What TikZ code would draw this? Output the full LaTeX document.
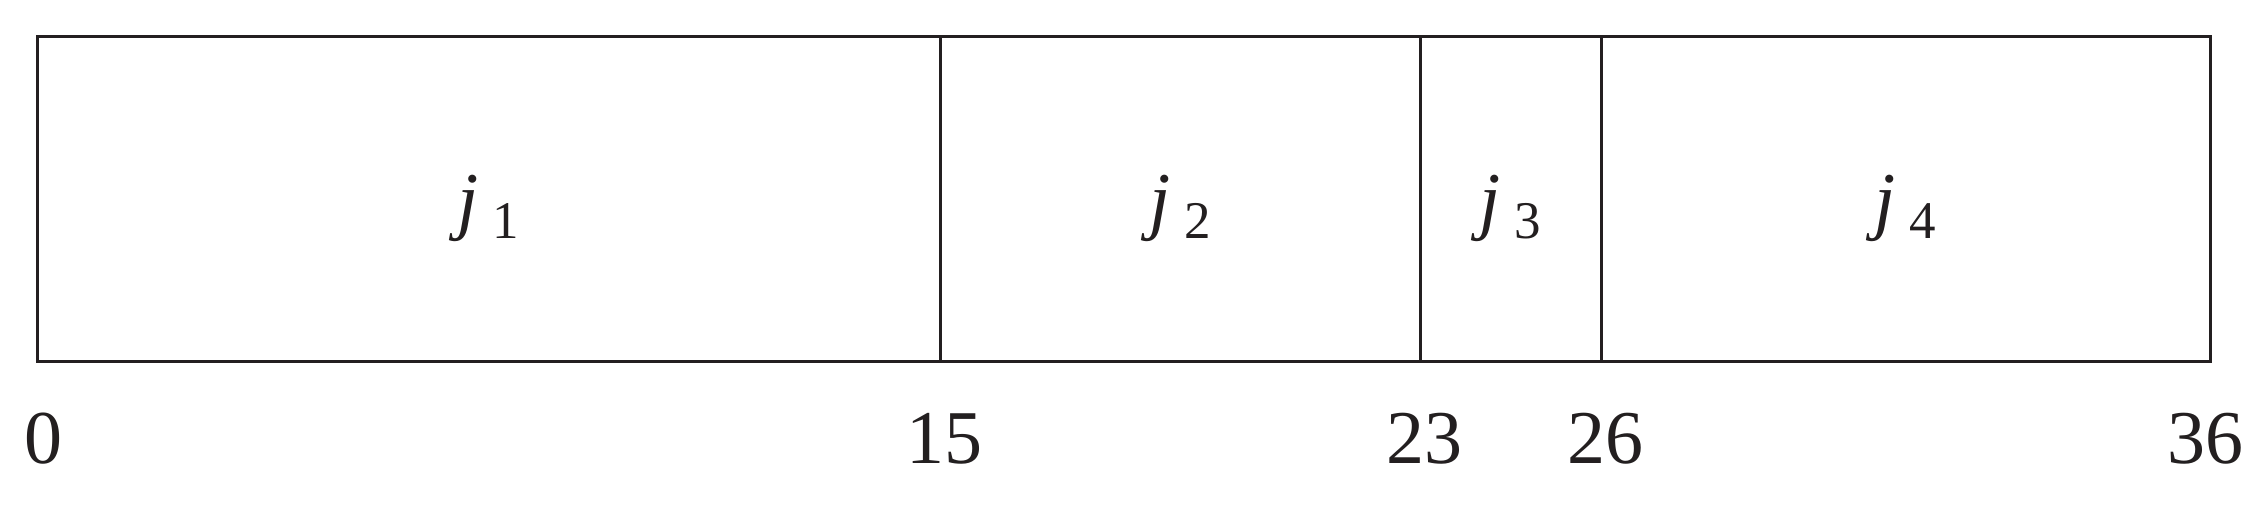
\documentclass[tikz,border=0pt]{standalone}
\usepackage{fontspec}
\setmainfont{Liberation Serif}
\definecolor{ink}{HTML}{231F20}
\tikzset{
  frame/.style={draw=ink, line width=1.5pt},
  tick/.style={text=ink, anchor=base, inner sep=0pt, font=\fontsize{38}{40}\selectfont},
  job/.style={text=ink, anchor=base, inner sep=0pt, font=\fontsize{38}{40}\selectfont}
}
\newcommand{\jlab}[1]{\textit{j}\hspace{7pt}\raisebox{-6.5pt}{\fontsize{26.5}{28}\selectfont #1}}
\begin{document}
\begin{tikzpicture}[x=0.5pt,y=-0.5pt]
\useasboundingbox (0,0) rectangle (2257,504);
\coordinate (a0) at (37,36);
\coordinate (a15) at (940,36);
\coordinate (a23) at (1420,36);
\coordinate (a26) at (1601,36);
\coordinate (b0) at (37,361);
\coordinate (b15) at (940,361);
\coordinate (b23) at (1420,361);
\coordinate (b26) at (1601,361);
\coordinate (b36) at (2210,361);
\draw[frame] (a0) rectangle (b36);
\draw[frame] (a15) -- (b15);
\draw[frame] (a23) -- (b23);
\draw[frame] (a26) -- (b26);
\node[job] (j1) at (488,225) {\jlab{1}};
\node[job] (j2) at (1180,225) {\jlab{2}};
\node[job] (j3) at (1510,225) {\jlab{3}};
\node[job] (j4) at (1905,225) {\jlab{4}};
\node[tick] (t0) at (44,463) {0};
\node[tick] (t15) at (944,463) {15};
\node[tick] (t23) at (1424,463) {23};
\node[tick] (t26) at (1605,463) {26};
\node[tick] (t36) at (2205,463) {36};
\end{tikzpicture}
\end{document}
